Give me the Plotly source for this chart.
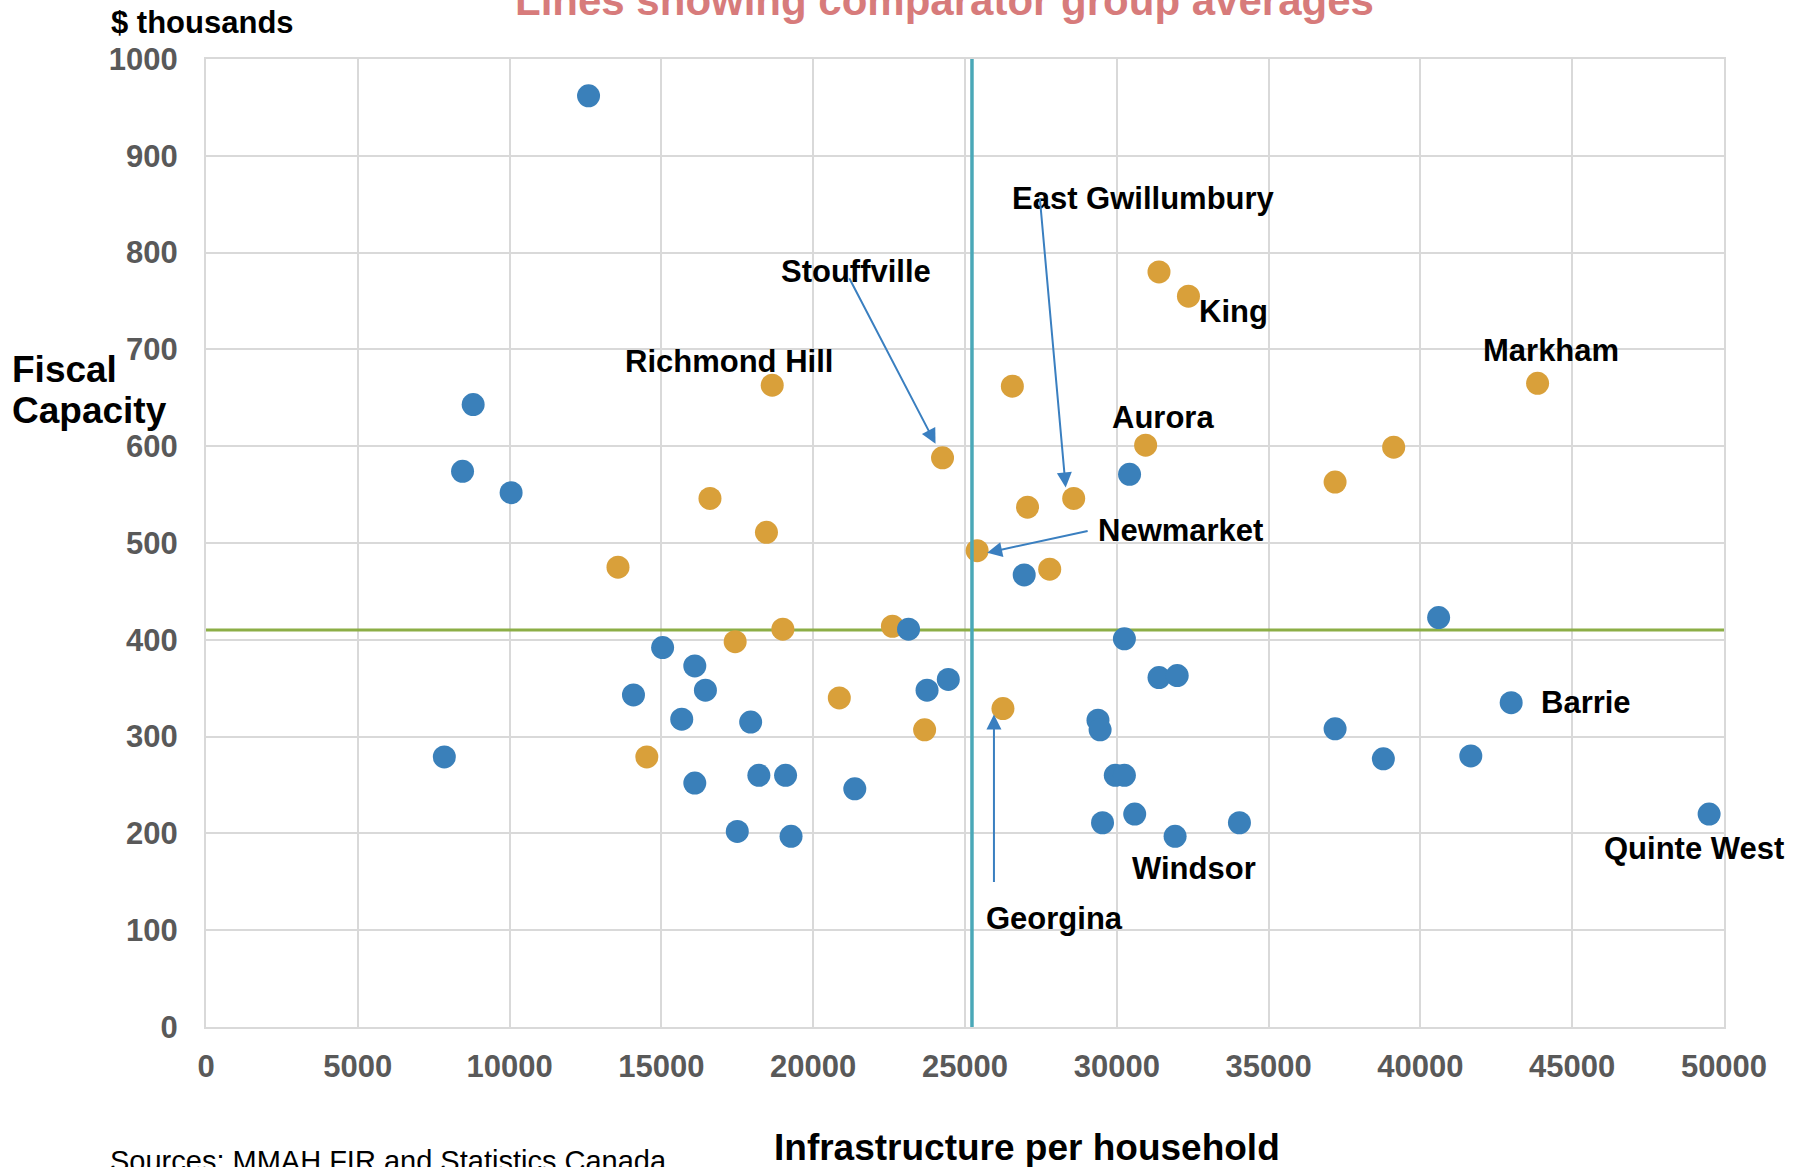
import plotly.graph_objects as go

# Infrastructure per household ($) and fiscal capacity ($ thousands)
# Comparator municipalities outside York Region
other_infra = [12600, 8800, 8450, 10050, 7850, 15040, 16100, 16450, 14080, 15670,
               17940, 16100, 18210, 19090, 17500, 19270, 21370, 23140, 23750, 24450,
               26950, 30420, 30250, 31390, 31990, 29380, 29450, 29950, 30250, 29530,
               30590, 31920, 34040, 40600, 37190, 38780, 41660, 42990, 49510]
other_fiscal = [962, 643, 574, 552, 279, 392, 373, 348, 343, 318,
                315, 252, 260, 260, 202, 197, 246, 411, 348, 359,
                467, 571, 401, 361, 363, 317, 307, 260, 260, 211,
                220, 197, 211, 423, 308, 277, 280, 335, 220]

# York Region group
york_infra = [31390, 32360, 26560, 18650, 43860, 30950, 39120, 37190, 24260, 16600,
              28580, 27060, 18460, 13570, 25400, 27790, 17430, 19000, 22610, 20860,
              23670, 26250, 14520]
york_fiscal = [780, 755, 662, 663, 665, 601, 599, 563, 588, 546,
               546, 537, 511, 475, 492, 473, 398, 411, 414, 340,
               307, 329, 279]

# Comparator group averages
avg_infra = 25230
avg_fiscal = 410

x_ticks = [0, 5000, 10000, 15000, 20000, 25000, 30000, 35000, 40000, 45000, 50000]
y_ticks = [0, 100, 200, 300, 400, 500, 600, 700, 800, 900, 1000]

# Named municipalities: (name, series, index in that series)
named = [
    ("King", "york", 1),
    ("Richmond Hill", "york", 3),
    ("Markham", "york", 4),
    ("Aurora", "york", 5),
    ("Stouffville", "york", 8),
    ("East Gwillumbury", "york", 10),
    ("Newmarket", "york", 14),
    ("Georgina", "york", 21),
    ("Windsor", "other", 31),
    ("Barrie", "other", 37),
    ("Quinte West", "other", 38),
]

BLUE = "#3a80ba"
ORANGE = "#d9a03a"
TEAL = "#4aa8b8"
GREEN = "#8cae46"
GRID = "#d9d9d9"
FONT = "Liberation Sans, Arial, sans-serif"

W, H = 1804, 1167
L, R, T, B = 206, 80, 59, 140
PW, PH = W - L - R, H - T - B


def px_x(px):
    return (px - L) / PW


def px_y(py):
    return (T + PH - py) / PH


def mid_from_baseline(baseline, size):
    # centre of the text box for a given baseline position
    return px_y(baseline - 0.3465 * size)


fig = go.Figure()

fig.add_trace(go.Scatter(
    x=[x_ticks[0], x_ticks[-1]], y=[avg_fiscal, avg_fiscal], mode="lines",
    line=dict(color=GREEN, width=3), hoverinfo="skip", showlegend=False))

fig.add_trace(go.Scatter(
    x=york_infra, y=york_fiscal, mode="markers", name="York Region",
    marker=dict(color=ORANGE, size=23, line=dict(width=0)), showlegend=False))

fig.add_trace(go.Scatter(
    x=other_infra, y=other_fiscal, mode="markers", name="Other",
    marker=dict(color=BLUE, size=23, line=dict(width=0)), showlegend=False))

fig.add_trace(go.Scatter(
    x=[avg_infra, avg_infra], y=[y_ticks[0], y_ticks[-1]], mode="lines",
    line=dict(color=TEAL, width=3.5), hoverinfo="skip", showlegend=False))

series = {"york": (york_infra, york_fiscal), "other": (other_infra, other_fiscal)}

# label offsets from the point (pixels, y up)
label_shift = {
    "King": (45, -15),
    "Richmond Hill": (-43, 24),
    "Markham": (13, 33),
    "Aurora": (17, 28),
    "Stouffville": (-87, 186),
    "East Gwillumbury": (70, 300),
    "Newmarket": (203, 20),
    "Georgina": (52, -210),
    "Windsor": (19, -32),
    "Barrie": (29, 0),
    "Quinte West": (-15, -34),
}

# callout arrows: tip shift from point (px, y up) and tail offset from tip (px, y down)
arrows = {
    "East Gwillumbury": ((-8, 11), (-26, -291)),
    "Stouffville": ((-7, 14), (-87, -167)),
    "Newmarket": ((10, -2), (102, -22)),
    "Georgina": ((-9, -6), (0, 169)),
}

annotations = []
for name, key, idx in named:
    xs, ys = series[key]
    px, py = xs[idx], ys[idx]
    dx, dy = label_shift[name]
    anchor = "left" if name == "Barrie" else "center"
    annotations.append(dict(
        x=px, y=py, xref="x", yref="y", text=name, showarrow=False,
        xanchor=anchor, yanchor="middle", xshift=dx, yshift=dy, borderpad=0,
        font=dict(family=FONT, size=31, color="#000000", weight="bold")))
    if name in arrows:
        (tx, ty), (ax, ay) = arrows[name]
        annotations.append(dict(
            x=px, y=py, xref="x", yref="y", text="", showarrow=True,
            xshift=tx, yshift=ty, ax=ax, ay=ay, axref="pixel", ayref="pixel",
            arrowhead=2, arrowsize=1.5, arrowwidth=2, arrowcolor="#3a7fc0",
            standoff=0, startstandoff=0))

# headings and titles around the plot
annotations += [
    dict(x=px_x(944), y=mid_from_baseline(15, 42), xref="paper", yref="paper",
         text="Lines showing comparator group averages", showarrow=False,
         xanchor="center", yanchor="middle", borderpad=0,
         font=dict(family=FONT, size=42, color="#d77b7b", weight="bold")),
    dict(x=px_x(110), y=mid_from_baseline(33, 31), xref="paper", yref="paper",
         text="$ thousands", showarrow=False, xanchor="left", yanchor="middle",
         borderpad=0, font=dict(family=FONT, size=31, color="#000000", weight="bold")),
    dict(x=px_x(11), y=mid_from_baseline(382, 37), xref="paper", yref="paper",
         text="Fiscal", showarrow=False, xanchor="left", yanchor="middle",
         borderpad=0, font=dict(family=FONT, size=37, color="#000000", weight="bold")),
    dict(x=px_x(11), y=mid_from_baseline(423, 37), xref="paper", yref="paper",
         text="Capacity", showarrow=False, xanchor="left", yanchor="middle",
         borderpad=0, font=dict(family=FONT, size=37, color="#000000", weight="bold")),
    dict(x=px_x(1027), y=mid_from_baseline(1160, 37), xref="paper", yref="paper",
         text="Infrastructure per household", showarrow=False, xanchor="center",
         yanchor="middle", borderpad=0,
         font=dict(family=FONT, size=37, color="#000000", weight="bold")),
    dict(x=px_x(109), y=mid_from_baseline(1171, 29), xref="paper", yref="paper",
         text="Sources: MMAH FIR and Statistics Canada", showarrow=False,
         xanchor="left", yanchor="middle", borderpad=0,
         font=dict(family=FONT, size=29, color="#000000")),
]

fig.update_layout(
    width=W, height=H,
    margin=dict(l=L, r=R, t=T, b=B, autoexpand=False),
    paper_bgcolor="white", plot_bgcolor="white",
    showlegend=False,
    annotations=annotations,
    xaxis=dict(range=[x_ticks[0], x_ticks[-1]], tickvals=x_ticks,
               ticktext=[str(v) for v in x_ticks],
               showgrid=True, gridcolor=GRID, gridwidth=2,
               zeroline=False, showline=True, linecolor=GRID, linewidth=2, mirror=True,
               ticks="", ticklabelstandoff=11, automargin=False,
               tickfont=dict(family=FONT, size=31, color="#595959", weight="bold")),
    yaxis=dict(range=[y_ticks[0], y_ticks[-1]], tickvals=y_ticks,
               ticktext=[str(v) for v in y_ticks],
               showgrid=True, gridcolor=GRID, gridwidth=2,
               zeroline=False, showline=True, linecolor=GRID, linewidth=2, mirror=True,
               ticks="", ticklabelstandoff=20, automargin=False,
               tickfont=dict(family=FONT, size=31, color="#595959", weight="bold")),
)

fig.write_html("out.html")
